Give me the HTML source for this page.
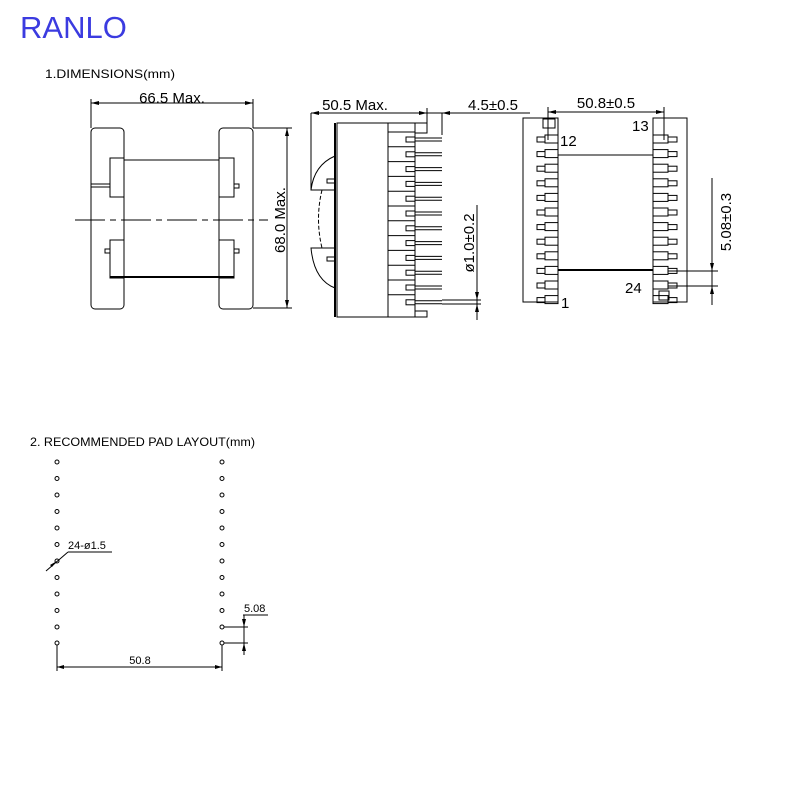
<!DOCTYPE html>
<html><head><style>
html,body{margin:0;padding:0;background:#fff;width:800px;height:800px;overflow:hidden}
svg{display:block}
text{font-family:"Liberation Sans",sans-serif;fill:#000}
</style></head><body>
<svg width="800" height="800" viewBox="0 0 800 800" xmlns="http://www.w3.org/2000/svg">
<text x="20" y="38" font-size="31" style="fill:#3b3be0">RANLO</text>
<text x="45" y="78" font-size="12" textLength="130" lengthAdjust="spacingAndGlyphs" font-family="Liberation Mono">1.DIMENSIONS(mm)</text>
<text x="30" y="446" font-size="12" textLength="225" lengthAdjust="spacingAndGlyphs" font-family="Liberation Mono">2. RECOMMENDED PAD LAYOUT(mm)</text>

<g stroke="#000" fill="none" stroke-width="1">
<!-- LEFT VIEW -->
<rect x="91" y="128" width="33" height="181" rx="4"/>
<rect x="219" y="128" width="34" height="181" rx="4"/>
<rect x="110" y="158" width="14" height="39"/>
<rect x="219" y="158" width="15" height="39"/>
<rect x="110" y="240" width="14" height="38"/>
<rect x="219" y="240" width="15" height="38"/>
<line x1="124" y1="160" x2="219" y2="160"/>
<line x1="110" y1="277" x2="234" y2="277" stroke-width="2"/>
<line x1="91" y1="184" x2="110" y2="184"/><line x1="91" y1="187" x2="110" y2="187"/>
<rect x="234" y="184" width="5" height="4"/>
<rect x="105" y="249" width="5" height="4"/>
<rect x="234" y="249" width="5" height="4"/>
<line x1="75" y1="220" x2="268" y2="220" stroke-dasharray="30,5,6,5"/>
<line x1="91" y1="103" x2="253" y2="103"/>
<line x1="91" y1="99" x2="91" y2="128"/><line x1="253" y1="99" x2="253" y2="128"/>
<line x1="253" y1="128" x2="292" y2="128"/><line x1="253" y1="308" x2="292" y2="308"/>
<line x1="287" y1="128" x2="287" y2="308"/>
</g>
<g fill="#000">
<polygon points="91,103 99,101 99,105"/><polygon points="253,103 245,101 245,105"/>
<polygon points="287,128 285,136 289,136"/><polygon points="287,308 285,300 289,300"/>
</g>
<text x="172" y="103" font-size="15" text-anchor="middle">66.5 Max.</text>
<text transform="translate(285,220) rotate(-90)" font-size="15" text-anchor="middle">68.0 Max.</text>

<!-- MIDDLE VIEW -->
<g stroke="#000" fill="none" stroke-width="1">
<line x1="335" y1="123" x2="335" y2="317" stroke-width="2"/>
<rect x="337" y="123" width="51" height="194"/>
<rect x="388" y="123" width="27" height="194"/>
<polyline points="415,123 427,123 427,133 415,133"/>
<polyline points="415,317 427,317 427,311 415,311"/>
<path d="M335,156 Q314,165 311,190 L335,190"/>
<path d="M335,288 Q314,280 311,248 L335,248"/>
<path d="M322,190 Q315,219 322,248" stroke-dasharray="4,2"/>
<rect x="327" y="179" width="8" height="4"/><rect x="327" y="257" width="8" height="4"/>
<line x1="311" y1="113" x2="311" y2="190"/>
<line x1="311" y1="113" x2="427" y2="113"/>
<line x1="427" y1="113" x2="530" y2="113"/>
<line x1="427" y1="108" x2="427" y2="123"/>
<line x1="442" y1="113" x2="442" y2="135"/>
<line x1="477" y1="205" x2="477" y2="320"/>
<line x1="442" y1="300" x2="481" y2="300"/><line x1="442" y1="304" x2="481" y2="304"/>
</g>
<g fill="#000">
<polygon points="311,113 319,111 319,115"/><polygon points="427,113 419,111 419,115"/>
<polygon points="442,113 450,111 450,115"/>
<polygon points="477,300 475,292 479,292"/><polygon points="477,304 475,312 479,312"/>
</g>
<g id="mp" stroke="#000" fill="none">
</g>
<text x="355" y="110" font-size="15" text-anchor="middle">50.5 Max.</text>
<text x="493" y="110" font-size="15" text-anchor="middle">4.5±0.5</text>
<text transform="translate(474,243) rotate(-90)" font-size="15" text-anchor="middle">ø1.0±0.2</text>

<!-- RIGHT VIEW -->
<g stroke="#000" fill="none">
<rect x="523" y="118" width="35" height="184"/>
<rect x="653" y="118" width="34" height="184"/>
<line x1="558" y1="155" x2="653" y2="155"/>
<line x1="558" y1="270" x2="653" y2="270" stroke-width="2"/>
<rect x="543" y="119" width="12" height="9"/>
<rect x="659" y="291" width="10" height="9"/>
<line x1="548" y1="107" x2="548" y2="140"/><line x1="664" y1="107" x2="664" y2="140"/>
<line x1="548" y1="112" x2="664" y2="112"/>
<line x1="712" y1="178" x2="712" y2="305"/>
<line x1="668" y1="271" x2="718" y2="271"/><line x1="668" y1="286" x2="718" y2="286"/>
</g>
<g fill="#000">
<polygon points="548,112 556,110 556,114"/><polygon points="664,112 656,110 656,114"/>
<polygon points="712,271 710,263 714,263"/><polygon points="712,286 710,294 714,294"/>
</g>
<text x="606" y="108" font-size="15" text-anchor="middle">50.8±0.5</text>
<text x="560" y="146" font-size="15">12</text>
<text x="632" y="131" font-size="15">13</text>
<text x="625" y="293" font-size="15">24</text>
<text x="561" y="308" font-size="15">1</text>
<text transform="translate(731,222) rotate(-90)" font-size="15" text-anchor="middle">5.08±0.3</text>

<!-- PAD LAYOUT -->
<g stroke="#000" fill="none">
<line x1="57" y1="645" x2="57" y2="671"/><line x1="222" y1="645" x2="222" y2="671"/>
<line x1="57" y1="667" x2="222" y2="667"/>
<line x1="68" y1="552" x2="112" y2="552"/><line x1="68" y1="552" x2="46" y2="571"/>
<line x1="243" y1="615" x2="268" y2="615"/><line x1="244" y1="615" x2="244" y2="655"/>
<line x1="224" y1="627" x2="248" y2="627"/><line x1="224" y1="643" x2="248" y2="643"/>
</g>
<g fill="#000">
<polygon points="57,667 64,665 64,669"/><polygon points="222,667 215,665 215,669"/>
<polygon points="57,561 52,567 50,565"/>
<polygon points="244,627 242,619 246,619"/><polygon points="244,643 242,651 246,651"/>
</g>
<text x="140" y="664" font-size="11" text-anchor="middle">50.8</text>
<text x="68" y="549" font-size="11">24-ø1.5</text>
<text x="244" y="612" font-size="11">5.08</text>

<g stroke="#000" fill="none" stroke-width="1">
<circle cx="57" cy="462" r="2"/><circle cx="57" cy="478.5" r="2"/><circle cx="57" cy="495" r="2"/><circle cx="57" cy="511.5" r="2"/><circle cx="57" cy="528" r="2"/><circle cx="57" cy="544.5" r="2"/><circle cx="57" cy="561" r="2"/><circle cx="57" cy="577.5" r="2"/><circle cx="57" cy="594" r="2"/><circle cx="57" cy="610.5" r="2"/><circle cx="57" cy="627" r="2"/><circle cx="57" cy="643" r="2"/>
<circle cx="222" cy="462" r="2"/><circle cx="222" cy="478.5" r="2"/><circle cx="222" cy="495" r="2"/><circle cx="222" cy="511.5" r="2"/><circle cx="222" cy="528" r="2"/><circle cx="222" cy="544.5" r="2"/><circle cx="222" cy="561" r="2"/><circle cx="222" cy="577.5" r="2"/><circle cx="222" cy="594" r="2"/><circle cx="222" cy="610.5" r="2"/><circle cx="222" cy="627" r="2"/><circle cx="222" cy="643" r="2"/>
</g>

<!-- middle pins -->
<g stroke="#000" fill="none">
<g transform="translate(0,139)"><line x1="388" y1="-7" x2="415" y2="-7"/><rect x="406" y="-2" width="9" height="5"/><line x1="415" y1="-1" x2="442" y2="-1"/><line x1="415" y1="2" x2="442" y2="2"/></g>
<g transform="translate(0,153.8)"><line x1="388" y1="-7" x2="415" y2="-7"/><rect x="406" y="-2" width="9" height="5"/><line x1="415" y1="-1" x2="442" y2="-1"/><line x1="415" y1="2" x2="442" y2="2"/></g>
<g transform="translate(0,168.6)"><line x1="388" y1="-7" x2="415" y2="-7"/><rect x="406" y="-2" width="9" height="5"/><line x1="415" y1="-1" x2="442" y2="-1"/><line x1="415" y1="2" x2="442" y2="2"/></g>
<g transform="translate(0,183.4)"><line x1="388" y1="-7" x2="415" y2="-7"/><rect x="406" y="-2" width="9" height="5"/><line x1="415" y1="-1" x2="442" y2="-1"/><line x1="415" y1="2" x2="442" y2="2"/></g>
<g transform="translate(0,198.2)"><line x1="388" y1="-7" x2="415" y2="-7"/><rect x="406" y="-2" width="9" height="5"/><line x1="415" y1="-1" x2="442" y2="-1"/><line x1="415" y1="2" x2="442" y2="2"/></g>
<g transform="translate(0,213)"><line x1="388" y1="-7" x2="415" y2="-7"/><rect x="406" y="-2" width="9" height="5"/><line x1="415" y1="-1" x2="442" y2="-1"/><line x1="415" y1="2" x2="442" y2="2"/></g>
<g transform="translate(0,227.8)"><line x1="388" y1="-7" x2="415" y2="-7"/><rect x="406" y="-2" width="9" height="5"/><line x1="415" y1="-1" x2="442" y2="-1"/><line x1="415" y1="2" x2="442" y2="2"/></g>
<g transform="translate(0,242.6)"><line x1="388" y1="-7" x2="415" y2="-7"/><rect x="406" y="-2" width="9" height="5"/><line x1="415" y1="-1" x2="442" y2="-1"/><line x1="415" y1="2" x2="442" y2="2"/></g>
<g transform="translate(0,257.4)"><line x1="388" y1="-7" x2="415" y2="-7"/><rect x="406" y="-2" width="9" height="5"/><line x1="415" y1="-1" x2="442" y2="-1"/><line x1="415" y1="2" x2="442" y2="2"/></g>
<g transform="translate(0,272.2)"><line x1="388" y1="-7" x2="415" y2="-7"/><rect x="406" y="-2" width="9" height="5"/><line x1="415" y1="-1" x2="442" y2="-1"/><line x1="415" y1="2" x2="442" y2="2"/></g>
<g transform="translate(0,287)"><line x1="388" y1="-7" x2="415" y2="-7"/><rect x="406" y="-2" width="9" height="5"/><line x1="415" y1="-1" x2="442" y2="-1"/><line x1="415" y1="2" x2="442" y2="2"/></g>
<g transform="translate(0,301.8)"><line x1="388" y1="-7" x2="415" y2="-7"/><rect x="406" y="-2" width="9" height="5"/><line x1="415" y1="-1" x2="442" y2="-1"/><line x1="415" y1="2" x2="442" y2="2"/></g>
</g>

<!-- right view pins -->
<g stroke="#000" fill="none">
<g transform="translate(0,139)"><rect x="537" y="-2" width="8" height="5"/><rect x="545" y="-4" width="13" height="8"/><rect x="653" y="-4" width="15" height="8"/><rect x="668" y="-2" width="9" height="5"/></g>
<g transform="translate(0,153.6)"><rect x="537" y="-2" width="8" height="5"/><rect x="545" y="-4" width="13" height="8"/><rect x="653" y="-4" width="15" height="8"/><rect x="668" y="-2" width="9" height="5"/></g>
<g transform="translate(0,168.2)"><rect x="537" y="-2" width="8" height="5"/><rect x="545" y="-4" width="13" height="8"/><rect x="653" y="-4" width="15" height="8"/><rect x="668" y="-2" width="9" height="5"/></g>
<g transform="translate(0,182.8)"><rect x="537" y="-2" width="8" height="5"/><rect x="545" y="-4" width="13" height="8"/><rect x="653" y="-4" width="15" height="8"/><rect x="668" y="-2" width="9" height="5"/></g>
<g transform="translate(0,197.4)"><rect x="537" y="-2" width="8" height="5"/><rect x="545" y="-4" width="13" height="8"/><rect x="653" y="-4" width="15" height="8"/><rect x="668" y="-2" width="9" height="5"/></g>
<g transform="translate(0,212)"><rect x="537" y="-2" width="8" height="5"/><rect x="545" y="-4" width="13" height="8"/><rect x="653" y="-4" width="15" height="8"/><rect x="668" y="-2" width="9" height="5"/></g>
<g transform="translate(0,226.6)"><rect x="537" y="-2" width="8" height="5"/><rect x="545" y="-4" width="13" height="8"/><rect x="653" y="-4" width="15" height="8"/><rect x="668" y="-2" width="9" height="5"/></g>
<g transform="translate(0,241.2)"><rect x="537" y="-2" width="8" height="5"/><rect x="545" y="-4" width="13" height="8"/><rect x="653" y="-4" width="15" height="8"/><rect x="668" y="-2" width="9" height="5"/></g>
<g transform="translate(0,255.8)"><rect x="537" y="-2" width="8" height="5"/><rect x="545" y="-4" width="13" height="8"/><rect x="653" y="-4" width="15" height="8"/><rect x="668" y="-2" width="9" height="5"/></g>
<g transform="translate(0,270.4)"><rect x="537" y="-2" width="8" height="5"/><rect x="545" y="-4" width="13" height="8"/><rect x="653" y="-4" width="15" height="8"/><rect x="668" y="-2" width="9" height="5"/></g>
<g transform="translate(0,285)"><rect x="537" y="-2" width="8" height="5"/><rect x="545" y="-4" width="13" height="8"/><rect x="653" y="-4" width="15" height="8"/><rect x="668" y="-2" width="9" height="5"/></g>
<g transform="translate(0,299.6)"><rect x="537" y="-2" width="8" height="5"/><rect x="545" y="-4" width="13" height="8"/><rect x="653" y="-4" width="15" height="8"/><rect x="668" y="-2" width="9" height="5"/></g>
</g>
</svg>
</body></html>
